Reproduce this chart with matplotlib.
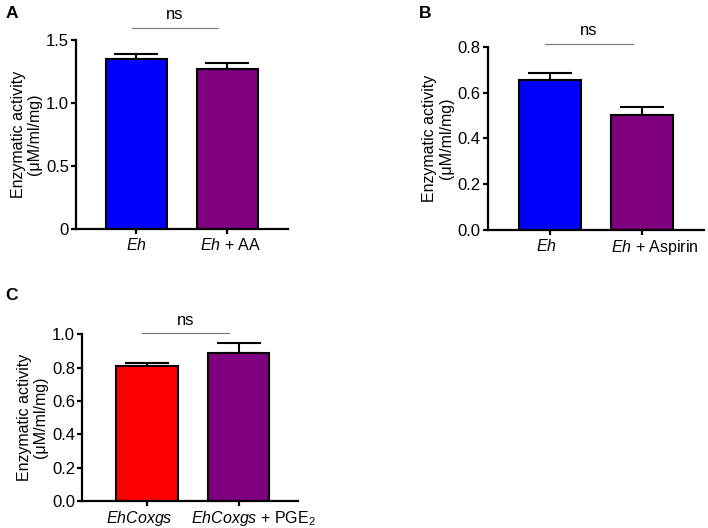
import matplotlib
matplotlib.use("Agg")
import matplotlib.pyplot as plt

plt.rcParams['font.family'] = ['Liberation Sans', 'DejaVu Sans']
plt.rcParams['mathtext.fontset'] = 'custom'
plt.rcParams['mathtext.rm'] = 'Liberation Sans'
plt.rcParams['mathtext.it'] = 'Liberation Sans:italic'

# panel A
a_labels = [r"$\mathit{Eh}$", r"$\mathit{Eh}$ + AA"]
a_means = [1.35, 1.27]
a_err = [0.04, 0.045]
a_colors = ["#0000ff", "#7f007f"]
a_ticks = [0, 0.5, 1.0, 1.5]
a_ticklabels = ["0", "0.5", "1.0", "1.5"]

# panel B
b_labels = [r"$\mathit{Eh}$", r"$\mathit{Eh}$ + Aspirin"]
b_means = [0.655, 0.50]
b_err = [0.031, 0.038]
b_colors = ["#0000ff", "#7f007f"]
b_ticks = [0.0, 0.2, 0.4, 0.6, 0.8]
b_ticklabels = ["0.0", "0.2", "0.4", "0.6", "0.8"]

# panel C
c_labels = [r"$\mathit{EhCoxgs}$", r"$\mathit{EhCoxgs}$ + PGE$_2$"]
c_means = [0.81, 0.89]
c_err = [0.017, 0.055]
c_colors = ["#ff0000", "#7f007f"]
c_ticks = [0.0, 0.2, 0.4, 0.6, 0.8, 1.0]
c_ticklabels = ["0.0", "0.2", "0.4", "0.6", "0.8", "1.0"]

fig = plt.figure(figsize=(7.08, 5.28), dpi=100)


def panel(rect, labels, means, err, colors, ticks, ticklabels, xlim, ns_y, letter, letter_xy, shifts):
    ax = fig.add_axes(rect)
    x = list(range(len(means)))
    ax.bar(x, means, width=0.67, color=colors, edgecolor="black", linewidth=1.5, zorder=2)
    ax.errorbar(x, means, yerr=[[0] * len(err), err], fmt="none", ecolor="black",
                elinewidth=1.5, capsize=16, capthick=1.5, zorder=1)
    ax.set_xlim(*xlim)
    ax.set_ylim(ticks[0], ticks[-1])
    ax.set_yticks(ticks)
    ax.set_yticklabels(ticklabels, fontsize=12)
    ax.set_xticks(x)
    ax.set_xticklabels([])
    # x labels drawn by hand so they can sit off-centre like the original
    for xi, lab, dx in zip(x, labels, shifts):
        ax.annotate(lab, (xi, 0), xycoords=ax.get_xaxis_transform(),
                    xytext=(dx * 0.72, -5.5), textcoords="offset points",
                    ha="center", va="top", fontsize=11.5)
    for s in ["top", "right"]:
        ax.spines[s].set_visible(False)
    for s in ["left", "bottom"]:
        ax.spines[s].set_linewidth(1.6)
    ax.tick_params(width=1.6, length=3.5, pad=1.5)
    ax.set_ylabel("Enzymatic activity\n(μM/ml/mg)", fontsize=11.5, linespacing=1.1, labelpad=3)
    ax.plot([-0.05, 0.9], [ns_y, ns_y], color="#777777", lw=0.8, clip_on=False)
    ax.text(0.425, ns_y + (ticks[-1] - ticks[0]) * 0.03, "ns", ha="center", va="bottom", fontsize=12)
    fig.text(letter_xy[0], letter_xy[1], letter, fontsize=12.5, fontweight="bold", ha="left", va="top")
    return ax


panel([0.1073, 0.5663, 0.2995, 0.3579], a_labels, a_means, a_err, a_colors,
      a_ticks, a_ticklabels, (-0.665, 1.665), 1.595, "A", (0.008, 0.988), [0, 3])
panel([0.689, 0.5644, 0.305, 0.3472], b_labels, b_means, b_err, b_colors,
      b_ticks, b_ticklabels, (-0.67, 1.665), 0.812, "B", (0.592, 0.988), [-3, 13])
panel([0.1158, 0.0511, 0.3051, 0.3158], c_labels, c_means, c_err, c_colors,
      c_ticks, c_ticklabels, (-0.71, 1.65), 1.01, "C", (0.008, 0.455), [-8, 15])

fig.savefig("out.png", dpi=100)
